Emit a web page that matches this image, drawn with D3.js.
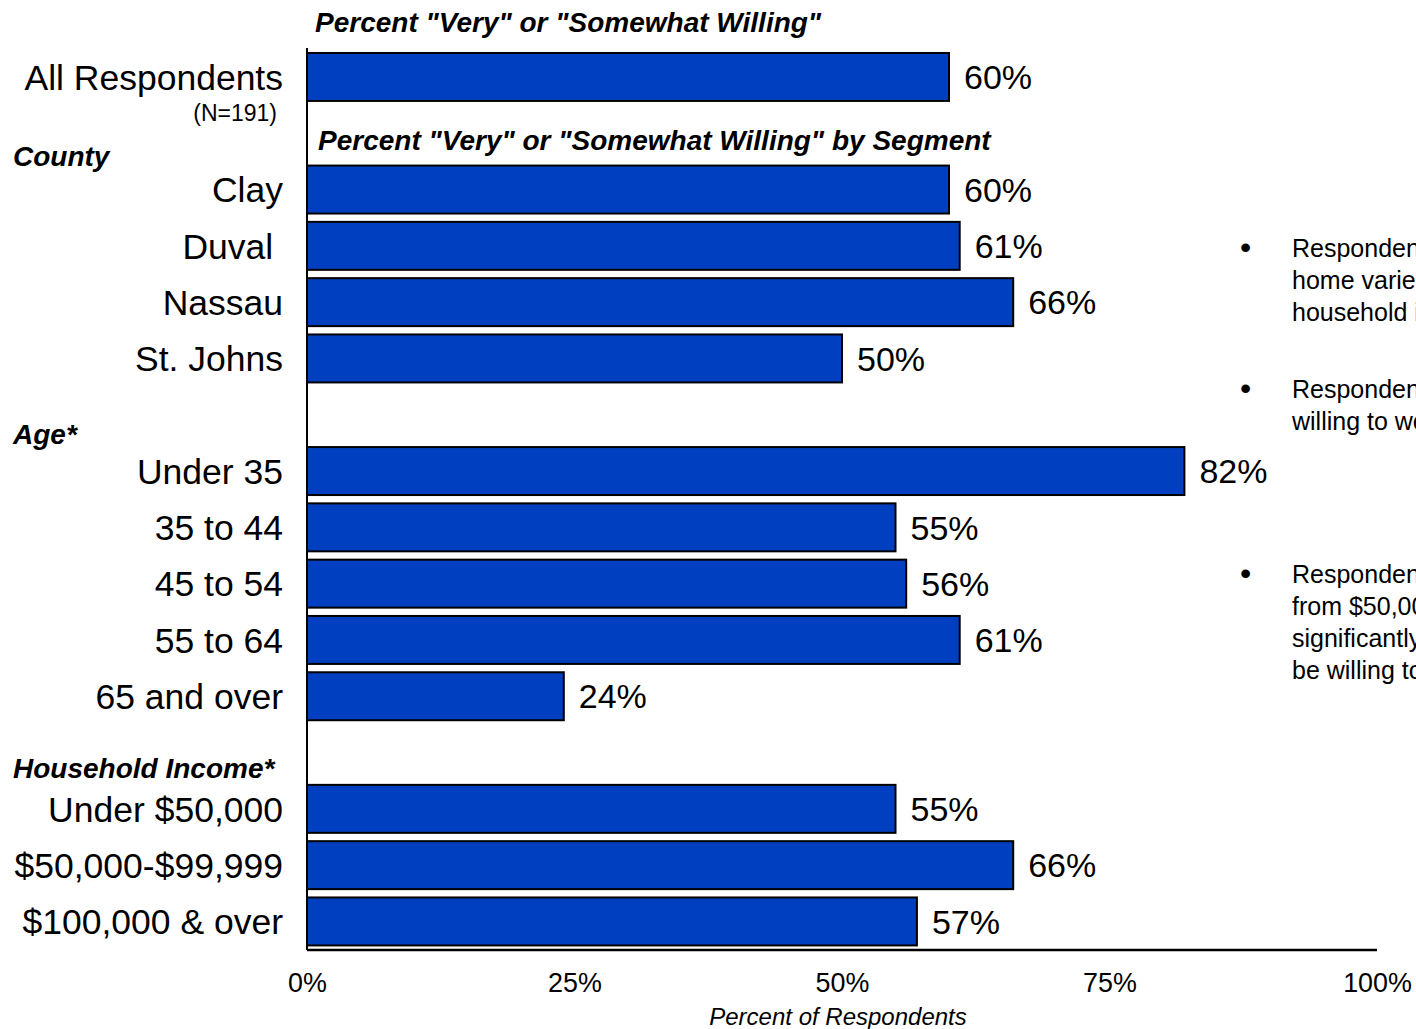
<!DOCTYPE html>
<html>
<head>
<meta charset="utf-8">
<script src="https://cdn.jsdelivr.net/npm/d3@7"></script>
<style>
  html, body { margin: 0; padding: 0; background: #fff; overflow: hidden; }
  svg { display: block; font-family: "Liberation Sans", Arial, sans-serif; }
</style>
</head>
<body>
<svg id="chart" width="1416" height="1029"></svg>
<script>
// Willingness to work from home, overall and by segment
const overallLabel = "All Respondents";
const overallValue = 60;

const countyLabels = ["Clay", "Duval ", "Nassau", "St. Johns"];
const countyValues = [60, 61, 66, 50];

const ageLabels = ["Under 35", "35 to 44", "45 to 54", "55 to 64", "65 and over"];
const ageValues = [82, 55, 56, 61, 24];

const incomeLabels = ["Under $50,000", "$50,000-$99,999", "$100,000 & over"];
const incomeValues = [55, 66, 57];

const groupNames = ["County", "Age*", "Household Income*"];
const tickValues = [0, 25, 50, 75, 100];

const notes = [
  ["Respondents' willingness to work from", "home varies significantly by age and", "household income."],
  ["Respondents under 35 are the most", "willing to work from home."],
  ["Respondents with household incomes", "from $50,000 to $99,999 are", "significantly more likely than others to", "be willing to work from home."]
];

// Build the row list: overall bar, then each group preceded by a spacer row
const rows = [{ key: "overall", label: overallLabel, value: overallValue }];
const segments = [
  [countyLabels, countyValues],
  [ageLabels, ageValues],
  [incomeLabels, incomeValues]
];
segments.forEach(([labels, vals], gi) => {
  rows.push({ key: "group-" + gi, group: groupNames[gi] });
  labels.forEach((l, i) => rows.push({ key: gi + "-" + i, label: l, value: vals[i] }));
});

const svg = d3.select("#chart");
const BLUE = "#0040C0";

const x = d3.scaleLinear().domain([0, 100]).range([307, 1377]);
const y = d3.scaleBand()
  .domain(rows.map(r => r.key))
  .range([48.8, 949.6])
  .paddingInner(0.148)
  .paddingOuter(0.074);

const bars = rows.filter(r => r.value !== undefined);

// Bars
svg.append("g").selectAll("rect")
  .data(bars)
  .join("rect")
  .attr("x", x(0))
  .attr("y", d => y(d.key))
  .attr("width", d => x(d.value) - x(0))
  .attr("height", y.bandwidth())
  .attr("fill", BLUE)
  .attr("stroke", "#000")
  .attr("stroke-width", 2);

// Value labels
svg.append("g").selectAll("text")
  .data(bars)
  .join("text")
  .attr("x", d => x(d.value) + 15)
  .attr("y", d => y(d.key) + y.bandwidth() / 2)
  .attr("dy", "0.36em")
  .attr("font-size", 34)
  .attr("fill", "#000")
  .text(d => d.value + "%");

// Category labels
svg.append("g").selectAll("text")
  .data(bars)
  .join("text")
  .attr("x", 283)
  .attr("y", d => y(d.key) + y.bandwidth() / 2)
  .attr("dy", "0.36em")
  .attr("text-anchor", "end")
  .attr("font-size", 35.5)
  .attr("fill", "#000")
  .style("white-space", "pre")
  .attr("xml:space", "preserve")
  .text(d => d.label);

svg.append("text")
  .attr("x", 277)
  .attr("y", y("overall") + y.bandwidth() + 20)
  .attr("text-anchor", "end")
  .attr("font-size", 23)
  .text("(N=191)");

// Group headings
const groupRows = rows.filter(r => r.group);
svg.append("g").selectAll("text")
  .data(groupRows)
  .join("text")
  .attr("x", 13)
  .attr("y", (d, i) => y(d.key) + y.bandwidth() / 2 + 33 - i * 4)
  .attr("font-size", 28)
  .attr("font-weight", "bold")
  .attr("font-style", "italic")
  .text(d => d.group);

// Section titles
svg.append("text")
  .attr("x", 315)
  .attr("y", 32)
  .attr("font-size", 28)
  .attr("font-weight", "bold")
  .attr("font-style", "italic")
  .text("Percent \"Very\" or \"Somewhat Willing\"");

svg.append("text")
  .attr("x", 318)
  .attr("y", y("group-0") + y.bandwidth() / 2 + 17)
  .attr("font-size", 28)
  .attr("font-weight", "bold")
  .attr("font-style", "italic")
  .text("Percent \"Very\" or \"Somewhat Willing\" by Segment");

// Axes
const axisY = 950;
svg.append("line")
  .attr("x1", x(0)).attr("x2", x(0))
  .attr("y1", 48).attr("y2", axisY)
  .attr("stroke", "#000").attr("stroke-width", 2);

const xAxis = svg.append("g")
  .attr("transform", `translate(0,${axisY})`)
  .call(d3.axisBottom(x).tickValues(tickValues).tickSize(0).tickPadding(22).tickFormat(d => d + "%"));
xAxis.select(".domain").attr("stroke", "#000").attr("stroke-width", 2.5).attr("d", `M${x(0)},0H${x(100)}`);
xAxis.selectAll("text")
  .attr("font-family", null)
  .attr("font-size", 28)
  .attr("transform", "scale(0.96,1)")
  .attr("fill", "#000");

svg.append("text")
  .attr("x", 838)
  .attr("y", 1025)
  .attr("text-anchor", "middle")
  .attr("font-size", 24)
  .attr("font-style", "italic")
  .text("Percent of Respondents");

// Notes on the right
const noteTops = [257, 398, 583];
const note = svg.append("g");
notes.forEach((lines, i) => {
  note.append("text")
    .attr("x", 1240)
    .attr("y", noteTops[i] + 1)
    .attr("font-size", 32)
    .text("\u2022");
  lines.forEach((line, j) => {
    note.append("text")
      .attr("x", 1292)
      .attr("y", noteTops[i] + j * 32)
      .attr("font-size", 25)
      .text(line);
  });
});
</script>
</body>
</html>
